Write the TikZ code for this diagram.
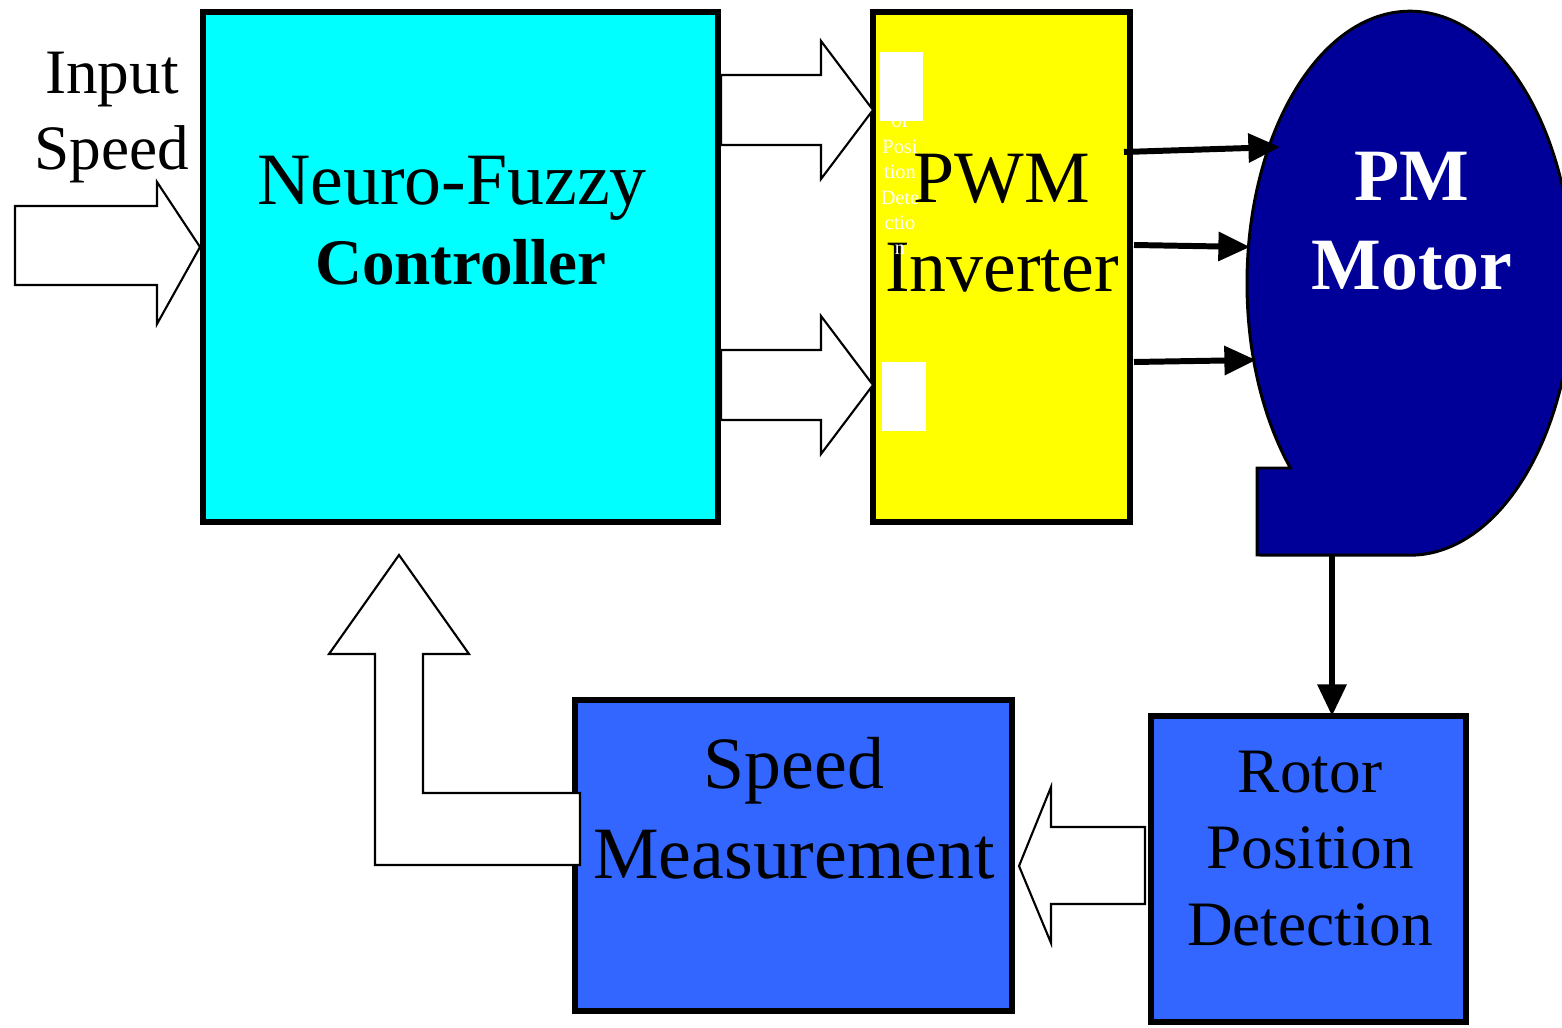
\documentclass[tikz,border=0pt]{standalone}
\usepackage{fontspec}
\setmainfont{Liberation Serif}
\usetikzlibrary{arrows.meta,positioning}
\definecolor{motorblue}{HTML}{000099}
\definecolor{blockblue}{HTML}{3366FF}
\definecolor{ctrlcyan}{HTML}{00FFFF}
\definecolor{invyellow}{HTML}{FFFF00}

\begin{document}
\begin{tikzpicture}
	[
		% Heavy-bordered blocks, placed by their lower left corner.
		block/.style={draw=black, line width=1.7pt, inner sep=0pt, outer sep=0pt, anchor=south west},
		% Hollow block arrows.
		hollow/.style={draw=black, line width=0.6pt, fill=white, line join=miter},
		% Thick signal lines with a solid head.
		wire/.style={line width=1.7pt, -{Triangle[length=9pt,width=8pt]}},
		% Multi-line texts sit on the baseline of their last line.
		bigtext/.style={font=\fontsize{21}{25.5}\selectfont, align=center, anchor=base},
		midtext/.style={font=\fontsize{18}{21.7}\selectfont, align=center, anchor=base}
	]
		\useasboundingbox (0,0) rectangle (15.62,10.27);

		% The four blocks.
		\node[block, fill=ctrlcyan, minimum width=5.15cm, minimum height=5.10cm] (nfc) at (2.03,5.05) {};
		\node[block, fill=invyellow, minimum width=2.57cm, minimum height=5.10cm] (pwm) at (8.73,5.05) {};
		\node[block, fill=blockblue, minimum width=4.37cm, minimum height=3.11cm] (spm) at (5.75,0.16) {};
		\node[block, fill=blockblue, minimum width=3.15cm, minimum height=3.06cm] (rpd) at (11.51,0.05) {};

		% Motor outline.
		\draw[fill=motorblue, line width=0.85pt] (12.904,5.59)
			arc[start angle=222.8, end angle=-90, x radius=1.63cm, y radius=2.72cm]
			-- (12.57,4.72) -- (12.57,5.59) -- cycle;

		% Texts.
		\node[midtext] (inp) at (1.12,8.57) {Input\\Speed};
		\node[bigtext] (nf) at (4.52,8.22) {Neuro-Fuzzy};
		\node[font=\fontsize{18.5}{22}\selectfont\bfseries, anchor=base] (ctl) at (4.61,7.42) {Controller};
		\node[bigtext] (inv) at (10.02,7.35) {PWM\\Inverter};
		\node[bigtext, white, font=\fontsize{21}{25.5}\selectfont\bfseries] (pm) at (14.12,7.37) {PM\\Motor};
		\node[bigtext] (sm) at (7.94,1.49) {Speed\\Measurement};
		\node[midtext] (rp) at (13.10,0.82) {Rotor\\Position\\Detection};

		% Leftover text in the inverter block, partly under white patches.
		\node[white, font=\fontsize{5.8}{7.25}\selectfont, align=center, anchor=base] (rest) at (9.00,7.72)
			{of\\Posi\\tion\\Dete\\ctio\\n};
		\fill[white] (8.80,9.06) rectangle (9.23,9.75);
		\fill[white] (8.82,5.96) rectangle (9.26,6.65);

		% Hollow arrows.
		\draw[hollow] (0.15,8.21) -- (1.57,8.21) -- (1.57,8.45) -- (2.00,7.80)
			-- (1.57,7.03) -- (1.57,7.42) -- (0.15,7.42) -- cycle;
		\draw[hollow] (7.21,9.52) -- (8.21,9.52) -- (8.21,9.86) -- (8.73,9.17)
			-- (8.21,8.48) -- (8.21,8.82) -- (7.21,8.82) -- cycle;
		\draw[hollow] (7.21,6.77) -- (8.21,6.77) -- (8.21,7.11) -- (8.73,6.42)
			-- (8.21,5.73) -- (8.21,6.07) -- (7.21,6.07) -- cycle;
		\draw[hollow] (11.45,2.00) -- (10.51,2.00) -- (10.51,2.40) -- (10.19,1.61)
			-- (10.51,0.84) -- (10.51,1.23) -- (11.45,1.23) -- cycle;
		\draw[hollow] (5.80,2.34) -- (4.23,2.34) -- (4.23,3.73) -- (4.69,3.73) -- (3.99,4.72)
			-- (3.29,3.73) -- (3.75,3.73) -- (3.75,1.62) -- (5.80,1.62) -- cycle;

		% Lines from the inverter into the motor.
		\coordinate (p1) at (11.24,8.75);
		\coordinate (p2) at (11.34,7.82);
		\coordinate (p3) at (11.34,6.65);
		\coordinate (m1) at (12.80,8.80);
		\coordinate (m2) at (12.50,7.80);
		\coordinate (m3) at (12.56,6.67);
		\coordinate (mb) at (13.32,4.72);
		\draw[wire] (p1) -- (m1);
		\draw[wire] (p2) -- (m2);
		\draw[wire] (p3) -- (m3);
		\draw[wire] (mb) -- (mb |- rpd.north);
	\end{tikzpicture}
\end{document}
